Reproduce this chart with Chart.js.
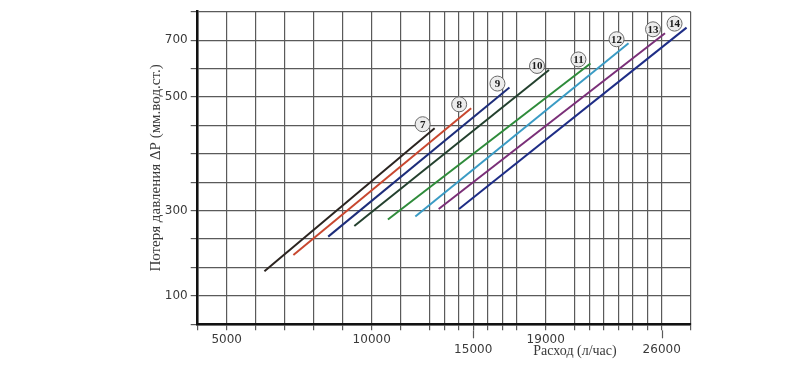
<!DOCTYPE html>
<html>
<head>
<meta charset="utf-8">
<style>
  html, body { margin: 0; padding: 0; background: #fff; }
  #chart { display: block; }
</style>
<script src="https://cdn.jsdelivr.net/npm/chart.js@4.4.1/dist/chart.umd.min.js"></script>
</head>
<body>
<canvas id="chart" width="800" height="374"></canvas>
<script>
// Кривые 7..14: начало и конец каждой прямой
const curves = ['7', '8', '9', '10', '11', '12', '13', '14'];
const flowStart = [6300, 7300, 8500, 9400, 10800, 12150, 13300, 14300];   // л/час
const flowEnd = [13100, 14900, 17000, 19200, 21700, 24000, 26200, 27500];
const dpStart = [158, 196, 239, 264, 279, 286, 303, 303];                 // мм вод. ст.
const dpEnd = [445, 480, 533, 595, 618, 689, 724, 744];

const flowTicks = [5000, 10000, 15000, 19000, 26000];
const flowTicksLow = [15000, 26000];   // эти подписи стоят строкой ниже
const dpTicks = [100, 300, 500, 700];

const CURVE_COLORS = ['#2b2420', '#c8472f', '#1d2d7a', '#23402e', '#2e8b3a', '#3a9bc4', '#7a2f78', '#1e2d86'];
const COLOR_GRID = '#5a5a5a';
const COLOR_AXIS = '#111111';
const COLOR_TEXT = '#3a3a3a';

// Шкалы на исходнике неравномерные: в какой клетке сетки стоит каждая подпись
const AXES = {
    x: { values: flowTicks, at: [2, 12, 19, 24, 32], span: 34,
         lines: [0, 2, 4, 6, 8, 10, 12, 14, 16, 17, 18, 19, 20, 21, 22, 24, 26, 27, 28, 29, 30, 31, 32, 34] },
    y: { values: dpTicks, at: [1, 4, 8, 10], span: 11,
         lines: [0, 1, 2, 3, 4, 5, 6, 7, 8, 9, 10, 11] }
};

// кусочно-линейная интерполяция, по краям продолжает крайний отрезок
function interp(v, xs, ys) {
    let i = 1;
    while (i < xs.length - 1 && v > xs[i]) i++;
    const t = (v - xs[i - 1]) / (xs[i] - xs[i - 1]);
    return ys[i - 1] + t * (ys[i] - ys[i - 1]);
}

class PiecewiseScale extends Chart.LinearScale {
    static id = 'piecewise';
    buildTicks() {
        const m = AXES[this.id];
        return m.lines.map(c => ({ value: interp(c, m.at, m.values) }));
    }
    getPixelForValue(value) {
        const m = AXES[this.id];
        return this.getPixelForDecimal(interp(value, m.values, m.at) / m.span);
    }
    getValueForPixel(pixel) {
        const m = AXES[this.id];
        return interp(this.getDecimalForPixel(pixel) * m.span, m.at, m.values);
    }
}
Chart.register(PiecewiseScale);

// кружки с номером кривой у верхнего конца
const curveLabels = {
    id: 'curveLabels',
    afterDatasetsDraw(chart) {
        const ctx = chart.ctx;
        ctx.save();
        chart.data.datasets.forEach((ds, i) => {
            const pts = chart.getDatasetMeta(i).data;
            const end = pts[pts.length - 1];
            const cx = end.x - 12;
            const cy = end.y - 4;
            ctx.beginPath();
            ctx.arc(cx, cy, 7.5, 0, Math.PI * 2);
            ctx.fillStyle = '#ececec';
            ctx.fill();
            ctx.lineWidth = 1;
            ctx.strokeStyle = '#6a6a6a';
            ctx.stroke();
            ctx.fillStyle = '#1a1a1a';
            ctx.font = 'bold 11px "Liberation Serif"';
            ctx.textAlign = 'center';
            ctx.textBaseline = 'middle';
            ctx.fillText(ds.label, cx, cy + 0.5);
        });
        ctx.restore();
    }
};

// подпись оси X стоит правее центра, поэтому рисуется отдельно;
// у опущенных подписей засечка длиннее
const flowTitle = {
    id: 'flowTitle',
    afterDraw(chart) {
        const ctx = chart.ctx;
        const sx = chart.scales.x;
        ctx.save();
        ctx.strokeStyle = COLOR_GRID;
        ctx.lineWidth = 1.2;
        flowTicksLow.forEach(v => {
            const px = Math.round(sx.getPixelForValue(v)) + 0.5;
            ctx.beginPath();
            ctx.moveTo(px, sx.top + 6);
            ctx.lineTo(px, sx.top + 14);
            ctx.stroke();
        });
        ctx.font = '14px "Liberation Serif"';
        ctx.fillStyle = COLOR_TEXT;
        ctx.textAlign = 'center';
        ctx.textBaseline = 'middle';
        ctx.fillText('Расход (л/час)', 575, sx.top + 27);
        ctx.restore();
    }
};

Chart.defaults.font.family = '"DejaVu Sans", sans-serif';

new Chart(document.getElementById('chart'), {
    type: 'line',
    data: {
        datasets: curves.map((name, i) => ({
            label: name,
            data: [{ x: flowStart[i], y: dpStart[i] }, { x: flowEnd[i], y: dpEnd[i] }],
            borderColor: CURVE_COLORS[i],
            borderWidth: 2,
            pointRadius: 0,
            fill: false
        }))
    },
    options: {
        responsive: false,
        animation: false,
        devicePixelRatio: 1,
        layout: { padding: { left: 146.6, top: 11.7, right: 109.3, bottom: 19.7 } },
        plugins: {
            legend: { display: false },
            tooltip: { enabled: false }
        },
        scales: {
            x: {
                type: 'piecewise',
                position: 'bottom',
                afterFit: (s) => { s.height = 30; },
                grid: { color: COLOR_GRID, lineWidth: 1.2, tickLength: 6 },
                border: { color: COLOR_AXIS, width: 2.5 },
                ticks: {
                    autoSkip: false,
                    maxRotation: 0,
                    padding: 4,
                    color: COLOR_TEXT,
                    font: { size: 12, lineHeight: 0.85 },
                    callback: (v) => {
                        const r = Math.round(v);
                        if (!flowTicks.includes(r)) return '';
                        return flowTicksLow.includes(r) ? ['', String(r)] : String(r);
                    }
                }
            },
            y: {
                type: 'piecewise',
                position: 'left',
                afterFit: (s) => { s.width = 51.1; },
                grid: { color: COLOR_GRID, lineWidth: 1.2, tickLength: 7 },
                border: { color: COLOR_AXIS, width: 2.5 },
                title: {
                    display: true,
                    text: 'Потеря давления ΔP (мм.вод.ст.)',
                    color: COLOR_TEXT,
                    font: { family: '"Liberation Serif"', size: 15 },
                    padding: 0
                },
                ticks: {
                    autoSkip: false,
                    padding: 3,
                    color: COLOR_TEXT,
                    font: { size: 12 },
                    callback: (v) => {
                        const r = Math.round(v);
                        return dpTicks.includes(r) ? String(r) : '';
                    }
                }
            }
        }
    },
    plugins: [curveLabels, flowTitle]
});
</script>
</body>
</html>
